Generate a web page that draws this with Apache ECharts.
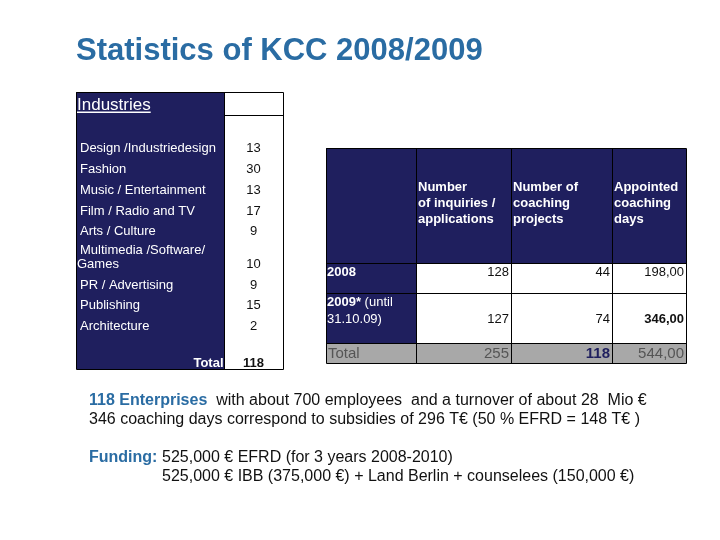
<!DOCTYPE html>
<html><head><meta charset="utf-8">
<script src="https://cdn.jsdelivr.net/npm/echarts@6/dist/echarts.min.js"></script>
<style>html,body{margin:0;padding:0;background:#fff}#chart{width:720px;height:540px}</style>
</head><body><div id="chart"></div>
<script>
// ---------------- data ----------------
const chartTitle = 'Statistics of KCC 2008/2009';
const industryHeading = 'Industries';
const industries = ['Design /Industriedesign', 'Fashion', 'Music / Entertainment', 'Film / Radio and TV',
  'Arts / Culture', 'Multimedia /Software/\nGames', 'PR / Advertising', 'Publishing', 'Architecture'];
const industryCounts = [13, 30, 13, 17, 9, 10, 9, 15, 2];
const industryTotalLabel = 'Total';
const industryTotal = 118;

const years = ['2008', '2009*'];
const yearNotes = ['', '(until\n31.10.09)'];
const measures = ['Number\nof inquiries /\napplications', 'Number of\ncoaching\nprojects', 'Appointed\ncoaching\ndays'];
const inquiries = [128, 127];
const coachingProjects = [44, 74];
const coachingDays = [198, 346];
const totalLabel = 'Total';
const totals = [255, 118, 544];

const enterprisesLead = '118 Enterprises';
const enterprisesText = '  with about 700 employees  and a turnover of about 28  Mio €';
const subsidiesText = '346 coaching days correspond to subsidies of 296 T€ (50 % EFRD = 148 T€ )';
const fundingLabel = 'Funding:';
const fundingLines = ['525,000 € EFRD (for 3 years 2008-2010)', '525,000 € IBB (375,000 €) + Land Berlin + counselees (150,000 €)'];

// ---------------- styling / layout ----------------
const NAVY = '#1f1f5e';
const BLUE = '#2a6ca3';
const GRAYBG = '#a8a8a8';
const FF = '"Liberation Sans", Arial, sans-serif';
const fmtDays = v => v.toFixed(2).replace('.', ',');
const font = (size, bold) => (bold ? 'bold ' : '') + size + 'px ' + FF;

function measure(text, f) {
  const ctx = document.createElement('canvas').getContext('2d');
  ctx.font = f; return ctx.measureText(text).width;
}

// left table (units inside table)
const L = { left: 76, top: 92, w: 207, h: 277, split: 148, headLine: 23 };
const leftRowY = [56, 77, 98.5, 119, 139, 172, 193, 213.5, 234.5];
const leftTotalY = 271;

// right table
const R = { left: 326, top: 148, w: 360, h: 215 };
const rCols = [0, 90, 185, 286, 360];
const rRows = [0, 115, 145, 195, 215];
const rRowTextY = [124.7, 171];
const rHeadY = 55.5;
const rTotalY = 206.3;

// ---------------- build cells ----------------
const cellsL = [];
cellsL.push({ rect: [0, L.split, 0, L.h], fill: NAVY });
cellsL.push({ rect: [L.split, L.w, 0, L.h], fill: '#ffffff' });
const headFont = font(17, false);
cellsL.push({ text: industryHeading, tx: 1, ty: 13.7, align: 'left', font: headFont, color: '#fff' });
cellsL.push({ line: [1, 20.3, 1 + measure(industryHeading, headFont), 20.3], color: '#fff', width: 1.4, noSnap: true });
industries.forEach((name, i) => {
  const lines = name.split('\n');
  lines.forEach((ln, k) => {
    const y = leftRowY[i] - (lines.length - 1 - k) * 14;
    cellsL.push({ text: ln, tx: k === 0 ? 4 : 1, ty: y, align: 'left', font: font(13), color: '#fff' });
  });
  cellsL.push({ text: String(industryCounts[i]), tx: (L.split + L.w) / 2, ty: leftRowY[i], align: 'center', font: font(13), color: '#111' });
});
cellsL.push({ text: industryTotalLabel, tx: L.split - 0.5, ty: leftTotalY, align: 'right', font: font(13, true), color: '#fff' });
cellsL.push({ text: String(industryTotal), tx: (L.split + L.w) / 2, ty: leftTotalY, align: 'center', font: font(13, true), color: '#111' });
cellsL.push({ line: [L.split, 0, L.split, L.h] });
cellsL.push({ line: [L.split, L.headLine, L.w, L.headLine] });
cellsL.push({ box: [0, L.w, 0, L.h] });

const cellsR = [];
// backgrounds
for (let c = 0; c < 4; c++) cellsR.push({ rect: [rCols[c], rCols[c + 1], rRows[0], rRows[1]], fill: NAVY });
for (let r = 1; r <= 2; r++) {
  cellsR.push({ rect: [rCols[0], rCols[1], rRows[r], rRows[r + 1]], fill: NAVY });
  cellsR.push({ rect: [rCols[1], rCols[4], rRows[r], rRows[r + 1]], fill: '#ffffff' });
}
cellsR.push({ rect: [rCols[0], rCols[4], rRows[3], rRows[4]], fill: GRAYBG });
// grid lines
rCols.forEach(x => cellsR.push({ line: [x, 0, x, R.h] }));
rRows.forEach(y => cellsR.push({ line: [0, y, R.w, y] }));
// headers
measures.forEach((m, i) => {
  cellsR.push({ text: m, tx: rCols[i + 1] + 2, ty: rHeadY, align: 'left', font: font(13, true), color: '#fff', lineHeight: 16 });
});
// rows
const rowVals = [inquiries, coachingProjects, coachingDays];
years.forEach((yr, r) => {
  const note = yearNotes[r];
  if (note) {
    const nl = note.split('\n');
    cellsR.push({ rich: '{b|' + yr + '}{n| ' + nl[0] + '}\n{n|' + nl.slice(1).join(' ') + '}', tx: 1, ty: rRowTextY[r] - 8.5, align: 'left', color: '#fff', lineHeight: 17,
      richStyle: { b: { font: font(13, true), fill: '#fff', lineHeight: 17 }, n: { font: font(13), fill: '#fff', lineHeight: 17 } } });
  } else {
    cellsR.push({ text: yr, tx: 1, ty: rRowTextY[r], align: 'left', font: font(13, true), color: '#fff' });
  }
  rowVals.forEach((arr, c) => {
    const txt = c === 2 ? fmtDays(arr[r]) : String(arr[r]);
    const bold = c === 2 && r === 1;
    cellsR.push({ text: txt, tx: rCols[c + 2] - 2, ty: rRowTextY[r], align: 'right', font: font(13, bold), color: '#111' });
  });
});
cellsR.push({ text: totalLabel, tx: 2, ty: rTotalY, align: 'left', font: font(15), color: '#555' });
totals.forEach((v, c) => {
  const txt = c === 2 ? fmtDays(v) : String(v);
  const isProj = c === 1;
  cellsR.push({ text: txt, tx: rCols[c + 2] - 2, ty: rTotalY, align: 'right', font: font(15, isProj), color: isProj ? NAVY : '#555' });
});

// ---------------- renderer ----------------
function makeRenderer(cells) {
  return function (params, api) {
    const c = cells[params.dataIndex];
    const snap = v => Math.round(v) + 0.5;
    if (c.rect) {
      const a = api.coord([c.rect[0], c.rect[2]]), b = api.coord([c.rect[1], c.rect[3]]);
      return { type: 'rect', shape: { x: a[0], y: a[1], width: b[0] - a[0], height: b[1] - a[1] }, style: { fill: c.fill } };
    }
    if (c.line) {
      const a = api.coord([c.line[0], c.line[1]]), b = api.coord([c.line[2], c.line[3]]);
      const s = c.noSnap ? (v => v) : snap;
      return { type: 'line', shape: { x1: s(a[0]), y1: s(a[1]), x2: s(b[0]), y2: s(b[1]) }, style: { stroke: c.color || '#000', lineWidth: c.width || 1 } };
    }
    if (c.box) {
      const a = api.coord([c.box[0], c.box[2]]), b = api.coord([c.box[1], c.box[3]]);
      return { type: 'rect', shape: { x: snap(a[0]), y: snap(a[1]), width: Math.round(b[0] - a[0]), height: Math.round(b[1] - a[1]) }, style: { fill: 'none', stroke: '#000', lineWidth: 1 } };
    }
    const p = api.coord([c.tx, c.ty]);
    const style = { text: c.rich || c.text, fill: c.color, align: c.align, verticalAlign: 'middle' };
    if (c.font) style.font = c.font;
    if (c.lineHeight) style.lineHeight = c.lineHeight;
    if (c.richStyle) style.rich = c.richStyle;
    return { type: 'text', x: p[0], y: p[1], style };
  };
}

function tableSeries(cells, idx) {
  return { type: 'custom', xAxisIndex: idx, yAxisIndex: idx, silent: true, clip: false,
    renderItem: makeRenderer(cells), data: cells.map((c, i) => [i, 0]) };
}

const chart = echarts.init(document.getElementById('chart'), null, { renderer: 'canvas' });
chart.setOption({
  animation: false,
  backgroundColor: '#ffffff',
  title: { text: chartTitle, left: 76, top: 36, padding: 0,
    textStyle: { fontFamily: FF, fontSize: 31, fontWeight: 'bold', color: BLUE, lineHeight: 31 } },
  grid: [
    { left: L.left, top: L.top, width: L.w, height: L.h },
    { left: R.left, top: R.top, width: R.w, height: R.h }
  ],
  xAxis: [
    { gridIndex: 0, type: 'value', min: 0, max: L.w, show: false },
    { gridIndex: 1, type: 'value', min: 0, max: R.w, show: false }
  ],
  yAxis: [
    { gridIndex: 0, type: 'value', min: 0, max: L.h, inverse: true, show: false },
    { gridIndex: 1, type: 'value', min: 0, max: R.h, inverse: true, show: false }
  ],
  series: [tableSeries(cellsL, 0), tableSeries(cellsR, 1)],
  graphic: [
    { type: 'text', x: 89, y: 401, silent: true, style: {
      text: '{b|' + enterprisesLead + '}{n|' + enterprisesText + '}', verticalAlign: 'middle',
      rich: { b: { font: font(16, true), fill: BLUE }, n: { font: font(16), fill: '#111' } } } },
    { type: 'text', x: 89, y: 420, silent: true, style: { text: subsidiesText, font: font(16), fill: '#111', verticalAlign: 'middle' } },
    { type: 'text', x: 89, y: 458, silent: true, style: { text: fundingLabel, font: font(16, true), fill: BLUE, verticalAlign: 'middle' } },
    { type: 'text', x: 162, y: 458, silent: true, style: { text: fundingLines[0], font: font(16), fill: '#111', verticalAlign: 'middle' } },
    { type: 'text', x: 162, y: 477, silent: true, style: { text: fundingLines[1], font: font(16), fill: '#111', verticalAlign: 'middle' } }
  ]
});
</script></body></html>
